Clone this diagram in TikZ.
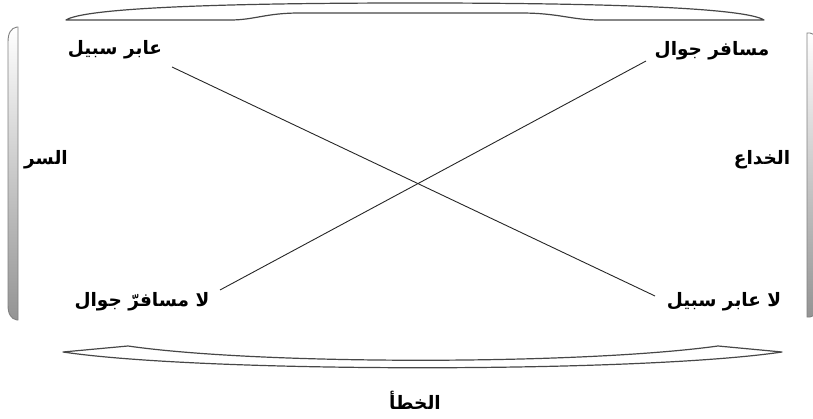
\documentclass[tikz,border=0pt]{standalone}
\usepackage{fontspec}
\newfontfamily\arabicfont[Script=Arabic]{DejaVu Sans}
\TeXXeTstate=1
\begin{document}
\begin{tikzpicture}[x=1pt,y=-1pt,
  lbl/.style={font=\arabicfont\bfseries\fontsize{18.5}{22}\selectfont, inner sep=0pt},
  brace/.style={draw=black!72, line width=1.2pt, fill=white, line join=round},
  link/.style={draw=black!85, line width=0.9pt},
  bar/.style={draw=black!50, line width=0.9pt, top color=white, bottom color=black!42}]
\useasboundingbox (0,0) rectangle (813,419);
% side bars
\path[bar] (18,27) -- (17,27) .. controls (11,28) and (8,33) .. (8,42) -- (8,305) .. controls (8,314) and (11,319) .. (17,320) -- (18,320) -- cycle;
\path[bar] (807,33) -- (810,33) .. controls (816,34) and (819,39) .. (819,48) -- (819,302) .. controls (819,311) and (816,316) .. (810,317) -- (807,317) -- cycle;
% braces
\path[brace] (66,20) .. controls (83,9) and (200,3) .. (415,3) .. controls (630,3) and (747,9) .. (764,20)
  -- (600,20) .. controls (570,20) and (560,13) .. (520,13) -- (300,13) .. controls (265,13) and (255,20) .. (230,20) -- cycle;
\path[brace] (63,352) -- (128,346) .. controls (260,365) and (580,365) .. (718,346) -- (782,352)
  .. controls (640,373) and (205,373) .. (63,352) -- cycle;
% labels
\node[lbl] (t1) at (115,50) {\beginR عابر سبيل\endR};
\node[lbl] (t2) at (712,51) {\beginR مسافر جوال\endR};
\node[lbl] (s) at (46,160) {\beginR السر\endR};
\node[lbl] (k) at (762,160) {\beginR الخداع\endR};
\node[lbl] (b1) at (142,302) {\beginR لا مسافرّ جوال\endR};
\node[lbl] (b2) at (724,302) {\beginR لا عابر سبيل\endR};
\node[lbl] (e) at (415,400) {\beginR الخطأ\endR};
% crossing lines
\coordinate (p1) at (172,67);
\coordinate (p2) at (655,296);
\coordinate (q1) at (646,61);
\coordinate (q2) at (220,290);
\draw[link] (p1) -- (p2);
\draw[link] (q1) -- (q2);
\end{tikzpicture}
\end{document}
